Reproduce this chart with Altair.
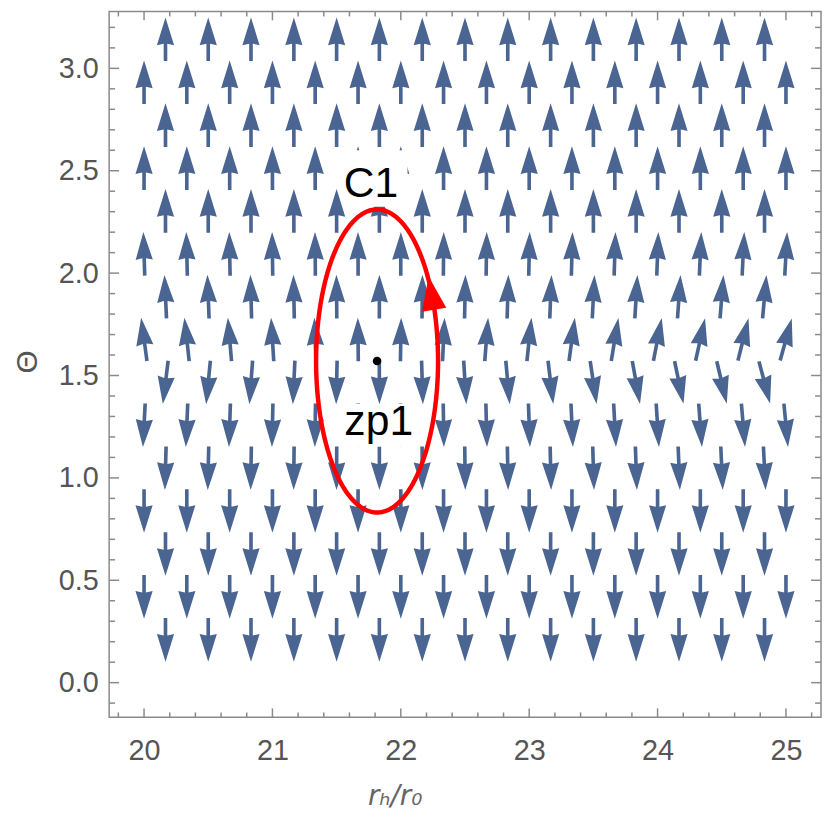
import altair as alt
import pandas as pd
import numpy as np

# ---------------- data ----------------
# arrow grid (hexagonal): rows at Theta = m*pi/15, m = 1..15
x_full = [20.0, 20.333, 20.667, 21.0, 21.333, 21.667, 22.0, 22.333, 22.667,
          23.0, 23.333, 23.667, 24.0, 24.333, 24.667, 25.0]
x_offset = [20.167, 20.5, 20.833, 21.167, 21.5, 21.833, 22.167, 22.5, 22.833,
            23.167, 23.5, 23.833, 24.167, 24.5, 24.833]
row_theta = [0.209, 0.419, 0.628, 0.838, 1.047, 1.257, 1.466, 1.676, 1.885,
             2.094, 2.304, 2.513, 2.723, 2.932, 3.142]
row_is_offset = [True, False, True, False, True, False, True, False, True,
                 False, True, False, True, False, True]
row_points_up = [False, False, False, False, False, False, False,
                 True, True, True, True, True, True, True, True]
# tilt of each arrow away from vertical, degrees (positive = towards +x)
row_tilt = [
    [0] * 15,
    [0] * 16,
    [0] * 15,
    [0] * 16,
    [-1.6, -1.3, -0.9, -0.6, -0.3, 0.0, 0.4, 0.7, 1.0, 1.3, 1.7, 2.0, 2.3, 2.6, 2.9],
    [-3.0, -2.5, -1.9, -1.3, -0.8, -0.2, 0.3, 0.9, 1.5, 2.0, 2.6, 3.1, 3.7, 4.3, 4.8, 5.4],
    [-7.0, -5.6, -4.2, -2.7, -1.3, 0.2, 1.8, 3.5, 5.2, 6.9, 8.5, 10.2, 11.8, 13.3, 14.8],
    [-7.7, -6.3, -4.9, -3.5, -2.0, -0.6, 1.0, 2.7, 4.4, 6.0, 7.7, 9.4, 11.0, 12.5, 14.0, 15.5],
    [-2.7, -2.2, -1.6, -1.1, -0.5, 0.1, 0.6, 1.2, 1.7, 2.3, 2.9, 3.4, 4.0, 4.5, 5.1],
    [-1.8, -1.4, -1.1, -0.8, -0.5, -0.1, 0.2, 0.5, 0.8, 1.2, 1.5, 1.8, 2.1, 2.5, 2.8, 3.1],
    [0] * 15,
    [0] * 16,
    [0] * 15,
    [0] * 16,
    [0] * 15,
]

# zero point and contour
zp_x = [21.815]
zp_y = [1.571]
contour_center = (21.815, 1.571)
contour_radii = (0.475, 0.74)
contour_arrow_x = [22.238]
contour_arrow_y = [1.903]
contour_arrow_angle = [350.5]

# labels
label_text = ["C1", "zp1"]
label_x = [21.767, 21.828]
label_y = [2.373, 1.211]
label_box_x = [21.805, 21.829]
label_box_y = [2.462, 1.257]

# axes
x_major = [20, 21, 22, 23, 24, 25]
x_minor = [19.8, 20.2, 20.4, 20.6, 20.8, 21.2, 21.4, 21.6, 21.8, 22.2, 22.4, 22.6,
           22.8, 23.2, 23.4, 23.6, 23.8, 24.2, 24.4, 24.6, 24.8, 25.2]
y_major = [0.0, 0.5, 1.0, 1.5, 2.0, 2.5, 3.0]
y_minor = [-0.1, 0.1, 0.2, 0.3, 0.4, 0.6, 0.7, 0.8, 0.9, 1.1, 1.2, 1.3, 1.4, 1.6,
           1.7, 1.8, 1.9, 2.1, 2.2, 2.3, 2.4, 2.6, 2.7, 2.8, 2.9, 3.1, 3.2]
x_domain = [19.728, 25.273]
y_domain = [-0.1695, 3.278]

# ---------------- build tables ----------------
rows = []
for th, off, up, tilts in zip(row_theta, row_is_offset, row_points_up, row_tilt):
    xs_ = x_offset if off else x_full
    for xv, t in zip(xs_, tilts):
        ang = (t % 360) if up else (180 - t)
        rows.append({"x": xv, "y": th, "angle": ang})
arrows = pd.DataFrame(rows)

tt = np.linspace(0, 2 * np.pi, 241)
ellipse = pd.DataFrame({
    "x": contour_center[0] + contour_radii[0] * np.cos(tt),
    "y": contour_center[1] + contour_radii[1] * np.sin(tt),
    "i": np.arange(len(tt)),
})

W, H = 718, 712
BLUE = "#4a6591"
GRAY = "#8a8a8a"
xs = alt.Scale(domain=x_domain, nice=False, zero=False)
ys = alt.Scale(domain=y_domain, nice=False, zero=False)

AX_X = alt.Axis(
    values=x_major, format="d", ticks=False, tickSize=0, domain=False, grid=False,
    labelPadding=20, labelFlush=False, labelOverlap=False,
    title="rₕ/r₀", titleX=288, titleY=80, titleBaseline="middle",
    titleAlign="center", titleFont="DejaVu Sans", titleFontStyle="italic",
    titleFontWeight="normal", titleFontSize=28, titleColor="#666666")
AX_Y = alt.Axis(
    values=y_major, format=".1f", ticks=False, tickSize=0, domain=False, grid=False,
    labelPadding=11, labelFlush=False, labelOverlap=False,
    title="Θ", titleX=-82, titleY=353, titleAngle=270, titleBaseline="middle",
    titleAlign="center", titleFont="Liberation Sans", titleFontWeight="normal",
    titleFontSize=30, titleColor="#555555")


def X(f):
    return alt.X(f, scale=xs, axis=AX_X)


def Y(f):
    return alt.Y(f, scale=ys, axis=AX_Y)


ARROW = ("M 0 -1 L 0.394 0.27 L 0.083 0.2 L 0.083 1 L -0.083 1 "
         "L -0.083 0.2 L -0.394 0.27 Z")
TRI = "M 0 -1 L 0.72 1 L -0.72 1 Z"

arrow_layer = alt.Chart(arrows).mark_point(
    shape=ARROW, filled=True, size=1936, color=BLUE, opacity=1, strokeWidth=0
).encode(x=X("x:Q"), y=Y("y:Q"), angle=alt.Angle("angle:Q", scale=None))

box_c1 = alt.Chart(pd.DataFrame({"x": label_box_x[:1], "y": label_box_y[:1]})).mark_point(
    shape="M -1 -0.89 L 1 -0.89 L 1 0.89 L -1 0.89 Z", filled=True, size=4096,
    color="white", opacity=1, strokeWidth=0
).encode(x=X("x:Q"), y=Y("y:Q"))

box_zp = alt.Chart(pd.DataFrame({"x": label_box_x[1:], "y": label_box_y[1:]})).mark_point(
    shape="M -1 -0.551 L 1 -0.551 L 1 0.551 L -1 0.551 Z", filled=True, size=6084,
    color="white", opacity=1, strokeWidth=0
).encode(x=X("x:Q"), y=Y("y:Q"))

ell_layer = alt.Chart(ellipse).mark_line(color="#ff0000", strokeWidth=4.5).encode(
    x=X("x:Q"), y=Y("y:Q"), order=alt.Order("i:Q"))

head_layer = alt.Chart(pd.DataFrame({"x": contour_arrow_x, "y": contour_arrow_y,
                                     "a": contour_arrow_angle})).mark_point(
    shape=TRI, filled=True, size=1176, color="#ff0000", opacity=1, strokeWidth=0
).encode(x=X("x:Q"), y=Y("y:Q"), angle=alt.Angle("a:Q", scale=None))

dot_layer = alt.Chart(pd.DataFrame({"x": zp_x, "y": zp_y})).mark_point(
    shape="circle", filled=True, size=75, color="black", opacity=1
).encode(x=X("x:Q"), y=Y("y:Q"))

text_layer = alt.Chart(pd.DataFrame({"x": label_x, "y": label_y, "t": label_text})).mark_text(
    font="Liberation Sans", fontSize=43, align="center", baseline="alphabetic", color="black"
).encode(x=X("x:Q"), y=Y("y:Q"), text="t:N")


def xticks(vals, length):
    d = pd.DataFrame({"x": vals})
    bottom = alt.Chart(d).mark_rule(color=GRAY, strokeWidth=1.5).encode(
        x=X("x:Q"), y=alt.value(H), y2=alt.value(H - length))
    top = alt.Chart(d).mark_rule(color=GRAY, strokeWidth=1.5).encode(
        x=X("x:Q"), y=alt.value(0), y2=alt.value(length))
    return [bottom, top]


def yticks(vals, length):
    d = pd.DataFrame({"y": vals})
    left = alt.Chart(d).mark_rule(color=GRAY, strokeWidth=1.5).encode(
        y=Y("y:Q"), x=alt.value(0), x2=alt.value(length))
    right = alt.Chart(d).mark_rule(color=GRAY, strokeWidth=1.5).encode(
        y=Y("y:Q"), x=alt.value(W), x2=alt.value(W - length))
    return [left, right]


tick_layers = xticks(x_major, 9) + xticks(x_minor, 5) + yticks(y_major, 10) + yticks(y_minor, 6)

chart = alt.layer(
    arrow_layer, box_c1, box_zp, ell_layer, head_layer, dot_layer, text_layer, *tick_layers
).properties(
    width=W, height=H,
    autosize=alt.AutoSizeParams(type="none"),
    padding={"left": 102, "top": 0, "right": 1, "bottom": 93},
    background="white",
).configure_view(
    stroke=GRAY, strokeWidth=1.5
).configure_axis(
    labelFont="Liberation Sans", labelFontSize=29, labelColor="#555555"
)

chart.save("out.html", embed_options={"renderer": "svg", "actions": False})
